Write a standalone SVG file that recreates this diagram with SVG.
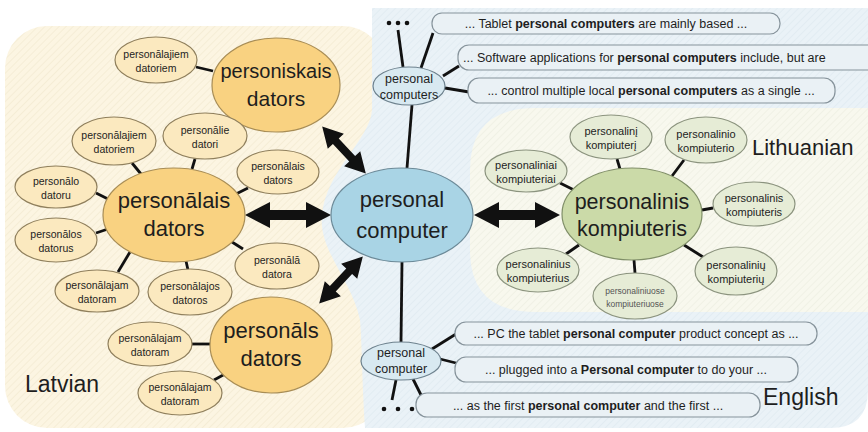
<svg xmlns="http://www.w3.org/2000/svg" width="868" height="432" viewBox="0 0 868 432">
<defs>
<pattern id="hY" width="5" height="5" patternUnits="userSpaceOnUse" patternTransform="rotate(45)"><rect width="5" height="5" fill="#fcf5e2"/><line x1="0" y1="0" x2="0" y2="5" stroke="#f1e8cf" stroke-width="1.2"/></pattern>
<pattern id="hB" width="5" height="5" patternUnits="userSpaceOnUse" patternTransform="rotate(45)"><rect width="5" height="5" fill="#eaf2f7"/><line x1="0" y1="0" x2="0" y2="5" stroke="#dde8ef" stroke-width="1.2"/></pattern>
<pattern id="hG" width="5" height="5" patternUnits="userSpaceOnUse" patternTransform="rotate(45)"><rect width="5" height="5" fill="#f8f8ee"/><line x1="0" y1="0" x2="0" y2="5" stroke="#ecede0" stroke-width="1.2"/></pattern>
<path id="dblArrow" d="M -43,0 L -18,-13 L -18,-5 L 18,-5 L 18,-13 L 43,0 L 18,13 L 18,5 L -18,5 L -18,13 Z"/>
<path id="diagArrow" d="M -32,0 L -12,-11 L -12,-4 L 12,-4 L 12,-11 L 32,0 L 12,11 L 12,4 L -12,4 L -12,11 Z"/>
</defs>
<style>
text{font-family:"Liberation Sans",Arial,sans-serif;fill:#1e1e1e;}
.big{font-size:22px;text-anchor:middle;}
.sm{font-size:10.5px;text-anchor:middle;}
.lt{font-size:11px;text-anchor:middle;}
.en{font-size:12.5px;text-anchor:middle;}
.bx{font-size:12.5px;}
.lab{font-size:23px;}
.lvB{fill:#f9d281;stroke:#a88d55;stroke-width:1.2;}
.lvS{fill:#fbe9bf;stroke:#8f7f5c;stroke-width:1.2;}
.ctr{fill:#a9d4e5;stroke:#6c8a98;stroke-width:1.2;}
.enS{fill:#d8e9f1;stroke:#6e828e;stroke-width:1.2;}
.ltB{fill:#cbdaa8;stroke:#808f68;stroke-width:1.2;}
.ltS{fill:#e6ecd6;stroke:#8b937e;stroke-width:1.2;}
.box{fill:#eaf1f5;stroke:#86939b;stroke-width:1.2;}
.ln{stroke:#111;stroke-width:2.8;fill:none;}
.arw{fill:#111;}
</style>
<rect width="868" height="432" fill="#ffffff"/>
<g id="regions">
<rect x="5" y="26" width="380" height="402" rx="42" fill="url(#hY)"/>
<path d="M 372,8 L 868,8 L 868,390 Q 868,428 830,428 L 365,428 C 362,380 362,345 360,320 C 352,280 318,250 322,215 C 326,170 370,140 372,110 Z" fill="url(#hB)"/>
<path d="M 535,108 L 868,108 L 868,312 L 535,312 Q 470,312 470,250 L 470,170 Q 470,108 535,108 Z" fill="url(#hG)"/>
</g>
<g id="connectors">
<line class="ln" x1="407" y1="168" x2="412" y2="105"/>
<line class="ln" x1="402" y1="262" x2="401" y2="342"/>
<line class="ln" x1="403" y1="67" x2="398" y2="30"/>
<line class="ln" x1="421" y1="68" x2="433" y2="33"/>
<line class="ln" x1="443" y1="76" x2="459" y2="66"/>
<line class="ln" x1="445" y1="88" x2="469" y2="92"/>
<line class="ln" x1="432" y1="349" x2="456" y2="334"/>
<line class="ln" x1="440" y1="359" x2="456" y2="363"/>
<line class="ln" x1="413" y1="379" x2="422" y2="397"/>
<line class="ln" x1="396" y1="380" x2="392" y2="400"/>
<line class="ln" x1="196" y1="67" x2="213" y2="71"/>
<line class="ln" x1="132" y1="163" x2="141" y2="174"/>
<line class="ln" x1="195" y1="159" x2="192" y2="169"/>
<line class="ln" x1="248" y1="188" x2="236" y2="194"/>
<line class="ln" x1="96" y1="193" x2="108" y2="199"/>
<line class="ln" x1="96" y1="233" x2="108" y2="229"/>
<line class="ln" x1="118" y1="272" x2="130" y2="252"/>
<line class="ln" x1="188" y1="270" x2="186" y2="261"/>
<line class="ln" x1="243" y1="249" x2="232" y2="242"/>
<line class="ln" x1="192" y1="344" x2="210" y2="344"/>
<line class="ln" x1="214" y1="380" x2="225" y2="374"/>
<line class="ln" x1="617" y1="159" x2="620" y2="169"/>
<line class="ln" x1="684" y1="160" x2="672" y2="176"/>
<line class="ln" x1="560" y1="183" x2="574" y2="190"/>
<line class="ln" x1="702" y1="210" x2="713" y2="208"/>
<line class="ln" x1="684" y1="245" x2="703" y2="257"/>
<line class="ln" x1="634" y1="260" x2="635" y2="273"/>
<line class="ln" x1="566" y1="254" x2="579" y2="245"/>
<use href="#dblArrow" class="arw" transform="translate(288,215)"/>
<use href="#dblArrow" class="arw" transform="translate(517,215)"/>
<use href="#diagArrow" class="arw" transform="translate(344,150) rotate(47)"/>
<use href="#diagArrow" class="arw" transform="translate(341,280) rotate(-47)"/>
<g fill="#111"><circle cx="389" cy="23" r="2.3"/><circle cx="398" cy="23" r="2.3"/><circle cx="407" cy="23" r="2.3"/>
<circle cx="384" cy="409" r="2.3"/><circle cx="398" cy="409" r="2.3"/><circle cx="412" cy="409" r="2.3"/></g>
</g>
<g id="n-personal-computer"><ellipse class="ctr" cx="402" cy="215" rx="71" ry="47"/><text class="big" x="402" y="207">personal</text><text class="big" x="402" y="238">computer</text></g>
<g id="n-personiskais"><ellipse class="lvB" cx="276" cy="85" rx="64" ry="47"/><text class="big" x="276" y="78" style="font-size:20px">personiskais</text><text class="big" x="276" y="106" style="font-size:21px">dators</text></g>
<g id="n-personalais"><ellipse class="lvB" cx="174" cy="215" rx="71" ry="47"/><text class="big" x="174" y="208">personālais</text><text class="big" x="174" y="236">dators</text></g>
<g id="n-personals"><ellipse class="lvB" cx="271" cy="345" rx="61" ry="48"/><text class="big" x="271" y="338">personāls</text><text class="big" x="271" y="366">dators</text></g>
<g id="n-lv1"><ellipse class="lvS" cx="156" cy="60" rx="41" ry="23"/><text class="sm" x="156" y="58">personālajiem</text><text class="sm" x="156" y="72">datoriem</text></g>
<g id="n-lv2"><ellipse class="lvS" cx="114" cy="141" rx="42" ry="24"/><text class="sm" x="114" y="139">personālajiem</text><text class="sm" x="114" y="153">datoriem</text></g>
<g id="n-lv3"><ellipse class="lvS" cx="205" cy="136" rx="42" ry="23"/><text class="sm" x="205" y="134">personālie</text><text class="sm" x="205" y="148">datori</text></g>
<g id="n-lv4"><ellipse class="lvS" cx="278" cy="172" rx="41" ry="22"/><text class="sm" x="278" y="170">personālais</text><text class="sm" x="278" y="184">dators</text></g>
<g id="n-lv5"><ellipse class="lvS" cx="56" cy="187" rx="41" ry="21"/><text class="sm" x="56" y="185">personālo</text><text class="sm" x="56" y="199">datoru</text></g>
<g id="n-lv6"><ellipse class="lvS" cx="56" cy="240" rx="41" ry="22"/><text class="sm" x="56" y="238">personālos</text><text class="sm" x="56" y="252">datorus</text></g>
<g id="n-lv7"><ellipse class="lvS" cx="97" cy="291" rx="42" ry="21"/><text class="sm" x="97" y="289">personālajam</text><text class="sm" x="97" y="303">datoram</text></g>
<g id="n-lv8"><ellipse class="lvS" cx="190" cy="292" rx="42" ry="23"/><text class="sm" x="190" y="290">personālajos</text><text class="sm" x="190" y="304">datoros</text></g>
<g id="n-lv9"><ellipse class="lvS" cx="277" cy="266" rx="42" ry="23"/><text class="sm" x="277" y="264">personālā</text><text class="sm" x="277" y="278">datora</text></g>
<g id="n-lv10"><ellipse class="lvS" cx="150" cy="344" rx="42" ry="22"/><text class="sm" x="150" y="342">personālajam</text><text class="sm" x="150" y="356">datoram</text></g>
<g id="n-lv11"><ellipse class="lvS" cx="180" cy="393" rx="42" ry="22"/><text class="sm" x="180" y="391">personālajam</text><text class="sm" x="180" y="405">datoram</text></g>
<g id="n-personalinis"><ellipse class="ltB" cx="632" cy="214" rx="70" ry="46"/><text class="big" x="632" y="209" style="font-size:21.5px">personalinis</text><text class="big" x="632" y="236" style="font-size:21.5px">kompiuteris</text></g>
<g id="n-lt1"><ellipse class="ltS" cx="611" cy="137" rx="41" ry="22"/><text class="lt" x="611" y="135">personalinį</text><text class="lt" x="611" y="149">kompiuterį</text></g>
<g id="n-lt2"><ellipse class="ltS" cx="706" cy="140" rx="41" ry="23"/><text class="lt" x="706" y="138">personalinio</text><text class="lt" x="706" y="152">kompiuterio</text></g>
<g id="n-lt3"><ellipse class="ltS" cx="526" cy="171" rx="41" ry="21"/><text class="lt" x="526" y="169">personaliniai</text><text class="lt" x="526" y="183">kompiuteriai</text></g>
<g id="n-lt4"><ellipse class="ltS" cx="754" cy="204" rx="41" ry="22"/><text class="lt" x="754" y="202">personalinis</text><text class="lt" x="754" y="216">kompiuteris</text></g>
<g id="n-lt5"><ellipse class="ltS" cx="736" cy="271" rx="41" ry="24"/><text class="lt" x="736" y="269">personalinių</text><text class="lt" x="736" y="283">kompiuterių</text></g>
<g id="n-lt6"><ellipse class="ltS" cx="635" cy="296" rx="42" ry="23"/><text class="lt" x="635" y="294" style="font-size:8.5px;fill:#555">personaliniuose</text><text class="lt" x="635" y="307" style="font-size:8.5px;fill:#555">kompiuteriuose</text></g>
<g id="n-lt7"><ellipse class="ltS" cx="538" cy="270" rx="41" ry="22"/><text class="lt" x="538" y="268">personalinius</text><text class="lt" x="538" y="282">kompiuterius</text></g>
<g id="n-en-top"><ellipse class="enS" cx="409" cy="86" rx="36" ry="19"/><text class="en" x="409" y="83">personal</text><text class="en" x="409" y="99">computers</text></g>
<g id="n-en-bottom"><ellipse class="enS" cx="401" cy="361" rx="40" ry="19"/><text class="en" x="401" y="357">personal</text><text class="en" x="401" y="373">computer</text></g>
<g id="n-box1"><rect class="box" x="432" y="13" width="348" height="21" rx="10"/><text class="bx" x="606" y="28" text-anchor="middle">... Tablet <tspan font-weight="bold">personal computers</tspan> are mainly based ...</text></g>
<g id="n-box2"><rect class="box" x="458" y="45" width="430" height="25" rx="11"/><text class="bx" x="463" y="62">... Software applications for <tspan font-weight="bold">personal computers</tspan> include, but are</text></g>
<g id="n-box3"><rect class="box" x="468" y="78" width="367" height="25" rx="11"/><text class="bx" x="651" y="95" text-anchor="middle">... control multiple local <tspan font-weight="bold">personal computers</tspan> as a single ...</text></g>
<g id="n-box4"><rect class="box" x="455" y="322" width="362" height="23" rx="11"/><text class="bx" x="636" y="338" text-anchor="middle">... PC the tablet <tspan font-weight="bold">personal computer</tspan> product concept as ...</text></g>
<g id="n-box5"><rect class="box" x="455" y="357" width="343" height="25" rx="11"/><text class="bx" x="626" y="374" text-anchor="middle">... plugged into a <tspan font-weight="bold">Personal computer</tspan> to do your ...</text></g>
<g id="n-box6"><rect class="box" x="416" y="393" width="344" height="24" rx="11"/><text class="bx" x="588" y="410" text-anchor="middle">... as the first <tspan font-weight="bold">personal computer</tspan> and the first ...</text></g>
<g id="labels">
<text class="lab" x="25" y="392">Latvian</text>
<text class="lab" x="752" y="155" style="font-size:22px">Lithuanian</text>
<text class="lab" x="763" y="405">English</text>
</g>
</svg>
